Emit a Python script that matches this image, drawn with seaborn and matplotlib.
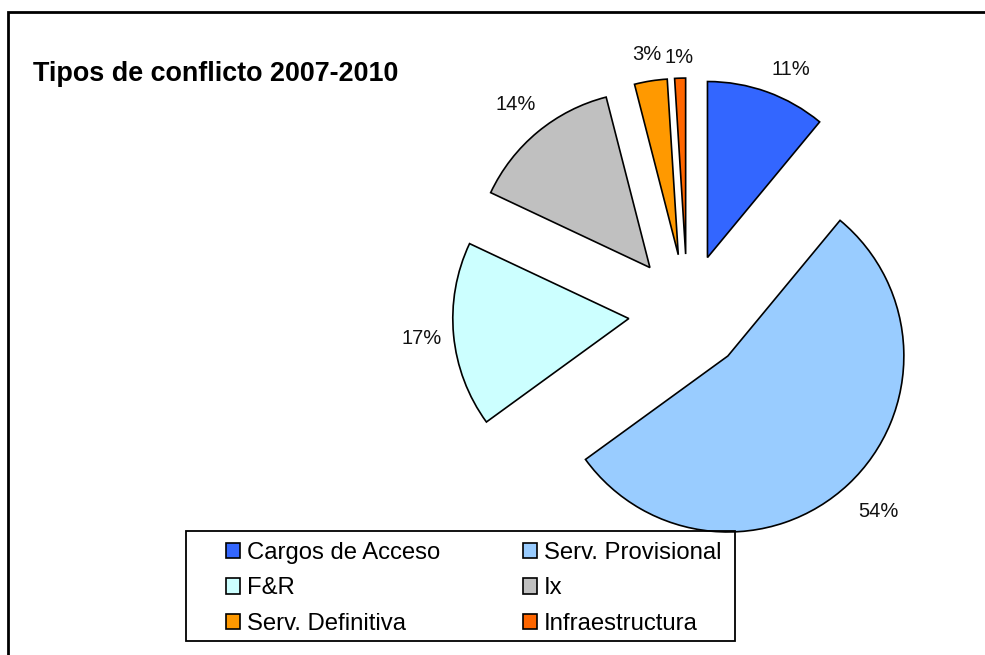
import numpy as np
import matplotlib
matplotlib.use("Agg")
import matplotlib.pyplot as plt
import seaborn as sns
from matplotlib.patches import Rectangle

categories = ["Cargos de Acceso", "Serv. Provisional", "F&R", "Ix", "Serv. Definitiva", "Infraestructura"]
values = [11, 54, 17, 14, 3, 1]
colors = ["#3366FF", "#99CCFF", "#CCFFFF", "#C0C0C0", "#FF9900", "#FF6600"]
title = "Tipos de conflicto 2007-2010"

sns.set_theme(style="white")
plt.rcParams["font.family"] = ["Liberation Sans", "DejaVu Sans"]

W, H = 985, 655
fig = plt.figure(figsize=(W / 100, H / 100), dpi=100)
fig.patch.set_facecolor("white")
ax = fig.add_axes([0, 0, 1, 1])

palette = sns.color_palette(colors)
R = 176
explode = [0.335 * R] * len(values)   # matplotlib explode is in data units
wedges, texts, autotexts = ax.pie(
    values, colors=palette, explode=explode, startangle=90, counterclock=False,
    center=(687.5, H - 313), radius=R, autopct="%1.0f%%",
    wedgeprops=dict(edgecolor="black", linewidth=1.2),
    textprops=dict(fontsize=14.5, color="#111111"),
)
ax.set_xlim(0, W)
ax.set_ylim(0, H)
ax.set_aspect("equal")
ax.axis("off")

# label placement (fraction of radius from each exploded wedge's apex, angle tweak)
label_dist = [1.17, 1.23, 1.18, 1.20, 1.15, 1.12]
label_dang = [-4, 1, 0, 0, 0, 0]
for w, t, d, da in zip(wedges, autotexts, label_dist, label_dang):
    th = np.deg2rad((w.theta1 + w.theta2) / 2 + da)
    cx, cy = w.center
    t.set_position((cx + d * w.r * np.cos(th), cy + d * w.r * np.sin(th)))
    t.set_ha("center")
    t.set_va("center")

fig.text(33 / W, 1 - 81 / H, title, fontsize=19.4, fontweight="bold",
         ha="left", va="baseline", color="black")

# legend frame
fig.patches.append(Rectangle((186 / W, 1 - 641 / H), (735 - 186) / W, (641 - 531) / H,
                             transform=fig.transFigure, fill=False,
                             edgecolor="black", linewidth=1.3, zorder=5))
# chart border
fig.patches.append(Rectangle((8 / W, -0.1), 2.0, (H - 12) / H + 0.1,
                             transform=fig.transFigure, fill=False,
                             edgecolor="black", linewidth=2.0, zorder=5))

order = [0, 2, 4, 1, 3, 5]
leg = fig.legend([wedges[i] for i in order], [categories[i] for i in order],
                 ncol=2, loc="upper left", bbox_to_anchor=(226 / W, 1 - 542 / H),
                 frameon=False, fontsize=17.2, borderpad=0, borderaxespad=0,
                 handlelength=0.6, handleheight=0.6, handletextpad=0.28,
                 labelspacing=0.56, columnspacing=3.45, labelcolor="black")

fig.savefig("out.png", dpi=100)
